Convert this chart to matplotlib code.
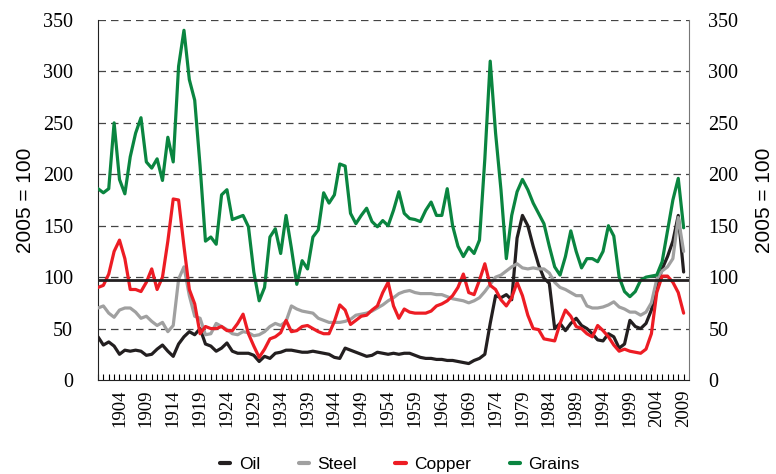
import matplotlib
matplotlib.use("Agg")
import matplotlib.pyplot as plt
import numpy as np

years = list(range(1900, 2010))

oil = [42, 34, 37, 33, 25, 29, 28, 29, 28, 24,
       25, 30, 34, 28, 23, 35, 42, 47, 44, 50,
       35, 33, 28, 31, 36, 28, 26, 26, 26, 24,
       18, 23, 21, 26, 27, 29, 29, 28, 27, 27,
       28, 27, 26, 25, 22, 21, 31, 29, 27, 25,
       23, 24, 27, 26, 25, 26, 25, 26, 26, 24,
       22, 21, 21, 20, 20, 19, 19, 18, 17, 16,
       19, 21, 25, 55, 82, 80, 83, 78, 138, 160,
       150, 130, 112, 99, 94, 50, 55, 48, 55, 60,
       53, 50, 45, 39, 38, 45, 42, 31, 35, 58,
       52, 50, 55, 68, 92, 108, 120, 135, 160, 105]

steel = [70, 72, 65, 61, 68, 70, 70, 66, 60, 62,
         57, 53, 56, 47, 53, 98, 110, 82, 62, 60,
         44, 45, 55, 52, 49, 45, 44, 47, 46, 43,
         44, 47, 52, 55, 53, 57, 72, 69, 67, 66,
         65, 60, 58, 56, 56, 56, 57, 59, 63, 64,
         65, 67, 70, 73, 77, 80, 84, 86, 87, 85,
         84, 84, 84, 83, 83, 81, 79, 78, 77, 75,
         77, 80, 86, 93, 100, 102, 106, 110, 113, 109,
         108, 109, 108, 108, 104, 95, 90, 88, 85, 82,
         82, 72, 70, 70, 71, 73, 76, 71, 69, 66,
         66, 63, 66, 75, 98, 106, 110, 118, 158, 125]

copper = [90, 92, 103, 125, 136, 118, 88, 88, 86, 95,
          108, 88, 100, 135, 176, 175, 130, 88, 74, 45,
          52, 50, 50, 52, 48, 48, 55, 64, 45, 33,
          22, 30, 40, 42, 46, 58, 47, 48, 52, 53,
          50, 47, 45, 45, 57, 73, 68, 54, 58, 62,
          63, 68, 72, 85, 95, 72, 60, 69, 66, 65,
          65, 65, 67, 72, 74, 77, 82, 90, 103, 85,
          83, 97, 113, 92, 88, 78, 72, 80, 95, 82,
          63, 50, 49, 40, 39, 38, 55, 68, 62, 52,
          50, 45, 42, 53, 48, 42, 34, 28, 30, 28,
          27, 26, 30, 45, 85, 101, 101, 95, 85, 65]

grains = [186, 182, 186, 250, 195, 181, 217, 240, 255, 212,
          206, 215, 194, 236, 212, 305, 340, 292, 272, 208,
          135, 139, 132, 180, 185, 156, 158, 160, 149, 105,
          77, 90, 139, 147, 123, 160, 128, 93, 116, 108,
          139, 146, 182, 172, 180, 210, 208, 162, 152, 160,
          167, 154, 149, 155, 150, 165, 183, 162, 157, 156,
          154, 165, 173, 160, 160, 186, 150, 130, 120, 129,
          123, 136, 215, 310, 240, 185, 118, 160, 183, 195,
          185, 172, 162, 152, 130, 110, 102, 120, 145, 125,
          109, 118, 118, 115, 125, 150, 140, 100, 86, 81,
          86, 97, 100, 101, 102, 115, 145, 175, 196, 148]

series_names = ["Oil", "Steel", "Copper", "Grains"]
series_colors = ["#231f20", "#a0a0a0", "#ed1c24", "#0a8540"]
label_years = list(range(1904, 2010, 5))
yticks = [0, 50, 100, 150, 200, 250, 300, 350]
ref_level = 97.5

serif = ["Liberation Serif", "DejaVu Serif"]
sans = ["Liberation Sans", "DejaVu Sans"]
narrow = ["Liberation Sans Narrow", "Liberation Sans", "DejaVu Sans"]

fig = plt.figure(figsize=(7.76, 4.74), dpi=100)
ax = fig.add_axes([98/776, 1-380/474, (689-98)/776, 360/474])

for name, vals, col in zip(series_names, [oil, steel, copper, grains], series_colors):
    ax.plot(years, vals, color=col, lw=2.3, label=name, solid_joinstyle="round",
            solid_capstyle="round", zorder=3)

ax.axhline(ref_level, color="#231f20", lw=2.0, zorder=4)

ax.set_xlim(1900, 2010)
ax.set_ylim(0, 350)
ax.set_yticks(yticks)
for y in yticks[1:]:
    ax.axhline(y, color="#444444", lw=0.9, ls=(0, (6, 4)), zorder=1)

ax.set_xticks(label_years)
ax.set_xticks(years, minor=True)
ax.set_xticklabels([str(y) for y in label_years], rotation=90, fontfamily=serif, fontsize=13.5)
ax.tick_params(axis="x", which="both", direction="in", length=4, width=0.8, pad=7)
ax.tick_params(axis="y", which="both", length=0, pad=18, labelsize=14.5)
for lab in ax.get_yticklabels():
    lab.set_fontfamily(serif)

ax.spines["top"].set_visible(False)
ax.spines["right"].set_color("#777777")
ax.spines["left"].set_color("#222222")
ax.spines["bottom"].set_color("#222222")

ax2 = ax.twinx()
ax2.set_ylim(0, 350)
ax2.set_yticks(yticks)
ax2.tick_params(axis="y", length=0, pad=14, labelsize=14.5)
for lab in ax2.get_yticklabels():
    lab.set_fontfamily(serif)
for s in ax2.spines.values():
    s.set_visible(False)

ax.set_ylabel("2005 = 100", fontfamily=sans, fontsize=15, labelpad=6)
ax2.set_ylabel("2005 = 100", fontfamily=sans, fontsize=15, labelpad=12)

handles, labels = ax.get_legend_handles_labels()
leg = fig.legend(handles, labels, loc="center", bbox_to_anchor=(400/776, 1-464/474),
                 ncol=4, frameon=False, handlelength=0.6, handletextpad=0.5,
                 columnspacing=2.2, prop={"family": narrow, "size": 12.5})
for h in leg.legend_handles:
    h.set_linewidth(3)

fig.savefig("out.png", dpi=100)
